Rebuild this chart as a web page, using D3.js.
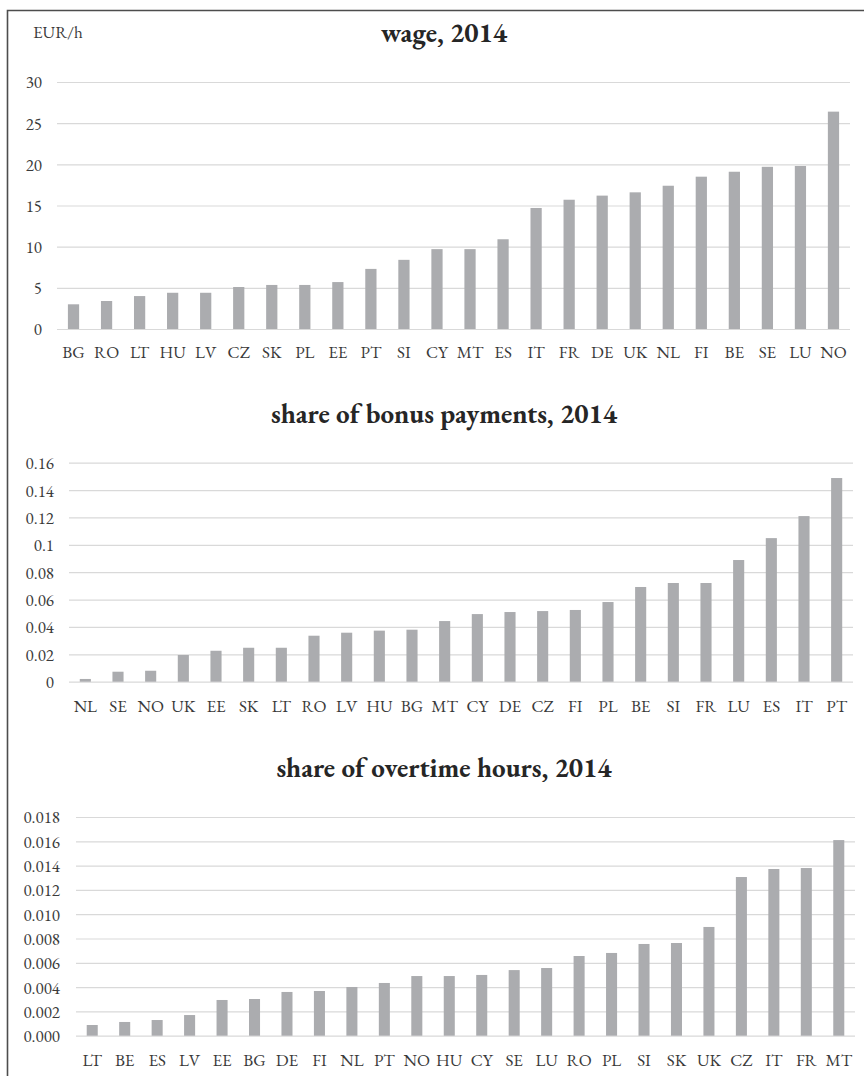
<!DOCTYPE html>
<html>
<head>
<meta charset="utf-8">
<script src="https://cdn.jsdelivr.net/npm/d3@7"></script>
<style>
  body { margin: 0; background: #fff; }
  svg { display: block; font-family: "EB Garamond", Garamond, "Liberation Serif", serif; }
  .tick-label, .cat-label { fill: #3a3a3a; font-size: 17px; }
  .title { fill: #262626; font-size: 27px; font-weight: bold; }
  .grid line { stroke: #d9d9d9; stroke-width: 1.2; }
</style>
</head>
<body>
<div class="graph"></div>
<script>
var wageCountries = ['BG', 'RO', 'LT', 'HU', 'LV', 'CZ', 'SK', 'PL', 'EE', 'PT', 'SI', 'CY',
                     'MT', 'ES', 'IT', 'FR', 'DE', 'UK', 'NL', 'FI', 'BE', 'SE', 'LU', 'NO'];
var wageValues = [3.0, 3.4, 4.0, 4.4, 4.4, 5.1, 5.35, 5.35, 5.7, 7.3, 8.4, 9.7,
                  9.7, 10.9, 14.7, 15.7, 16.2, 16.6, 17.4, 18.5, 19.1, 19.7, 19.8, 26.4];
var wageTicks = [0, 5, 10, 15, 20, 25, 30];

var bonusCountries = ['NL', 'SE', 'NO', 'UK', 'EE', 'SK', 'LT', 'RO', 'LV', 'HU', 'BG', 'MT',
                      'CY', 'DE', 'CZ', 'FI', 'PL', 'BE', 'SI', 'FR', 'LU', 'ES', 'IT', 'PT'];
var bonusValues = [0.002, 0.0073, 0.008, 0.0195, 0.0226, 0.0248, 0.0248, 0.0336, 0.0358, 0.0373, 0.038, 0.0443,
                   0.0494, 0.0509, 0.0516, 0.0524, 0.0582, 0.0692, 0.0721, 0.0721, 0.0889, 0.1049, 0.121, 0.1488];
var bonusTicks = [0, 0.02, 0.04, 0.06, 0.08, 0.1, 0.12, 0.14, 0.16];

var overtimeCountries = ['LT', 'BE', 'ES', 'LV', 'EE', 'BG', 'DE', 'FI', 'NL', 'PT', 'NO', 'HU',
                         'CY', 'SE', 'LU', 'RO', 'PL', 'SI', 'SK', 'UK', 'CZ', 'IT', 'FR', 'MT'];
var overtimeValues = [0.00088, 0.00113, 0.00129, 0.0017, 0.00294, 0.00302, 0.0036, 0.00368, 0.00401, 0.00434, 0.00491, 0.00491,
                      0.005, 0.0054, 0.00557, 0.00656, 0.00681, 0.00755, 0.00763, 0.00895, 0.01306, 0.01372, 0.0138, 0.0161];
var overtimeTicks = [0, 0.002, 0.004, 0.006, 0.008, 0.010, 0.012, 0.014, 0.016, 0.018];

var width = 864,
    height = 1076;

var barColor = '#abacaf';

var svg = d3.select('.graph')
            .append('svg')
            .attr('width', width)
            .attr('height', height);

// frame: only top and left edges are visible in the picture
svg.append('path')
   .attr('d', 'M7.5,' + height + 'V10.5H' + width)
   .attr('fill', 'none')
   .attr('stroke', '#4d4d4d')
   .attr('stroke-width', 1.6);

drawPanel({
  title: 'wage, 2014', titleY: 42,
  top: 82, bottom: 329, left: 57, right: 850, labelRight: 42, catY: 358,
  countries: wageCountries, values: wageValues, ticks: wageTicks,
  format: d3.format('d')
});

drawPanel({
  title: 'share of bonus payments, 2014', titleY: 423,
  top: 462.7, bottom: 681.7, left: 69, right: 853, labelRight: 54, catY: 712,
  countries: bonusCountries, values: bonusValues, ticks: bonusTicks,
  format: function(d) { return String(+d.toFixed(2)); }
});

drawPanel({
  title: 'share of overtime hours, 2014', titleY: 777,
  top: 817, bottom: 1035.7, left: 76, right: 855, labelRight: 60, catY: 1066,
  countries: overtimeCountries, values: overtimeValues, ticks: overtimeTicks,
  format: d3.format('.3f')
});

svg.append('text')
   .attr('class', 'tick-label')
   .attr('x', 33)
   .attr('y', 38)
   .text('EUR/h');

function drawPanel(p) {
  var ticks = p.ticks;
  var x = d3.scaleBand()
            .domain(p.countries)
            .range([p.left, p.right])
            .paddingInner(0.66)
            .paddingOuter(0.33);

  var y = d3.scaleLinear()
            .domain([0, ticks[ticks.length - 1]])
            .range([p.bottom, p.top]);

  var g = svg.append('g');

  g.append('text')
   .attr('class', 'title')
   .attr('x', 444)
   .attr('y', p.titleY)
   .attr('text-anchor', 'middle')
   .text(p.title);

  var yAxis = d3.axisLeft(y)
                .tickValues(ticks)
                .tickSize(-(p.right - p.left))
                .tickFormat(p.format);

  var grid = g.append('g')
              .attr('class', 'grid')
              .attr('transform', 'translate(' + p.left + ',0)')
              .call(yAxis);

  grid.select('.domain').remove();
  grid.selectAll('.tick text')
      .attr('class', 'tick-label')
      .attr('x', -(p.left - p.labelRight))
      .attr('dy', '0.35em')
      .attr('fill', null);
  grid.attr('font-family', null).attr('font-size', null);

  g.selectAll('.bar')
   .data(p.values)
   .enter()
   .append('rect')
   .attr('class', 'bar')
   .attr('fill', barColor)
   .attr('x', function(d, i) { return x(p.countries[i]); })
   .attr('width', x.bandwidth())
   .attr('y', function(d) { return y(d); })
   .attr('height', function(d) { return p.bottom - y(d); });

  g.selectAll('.cat-label')
   .data(p.countries)
   .enter()
   .append('text')
   .attr('class', 'cat-label')
   .attr('x', function(c) { return x(c) + x.bandwidth() / 2; })
   .attr('y', p.catY)
   .attr('text-anchor', 'middle')
   .text(function(c) { return c; });
}
</script>
</body>
</html>
